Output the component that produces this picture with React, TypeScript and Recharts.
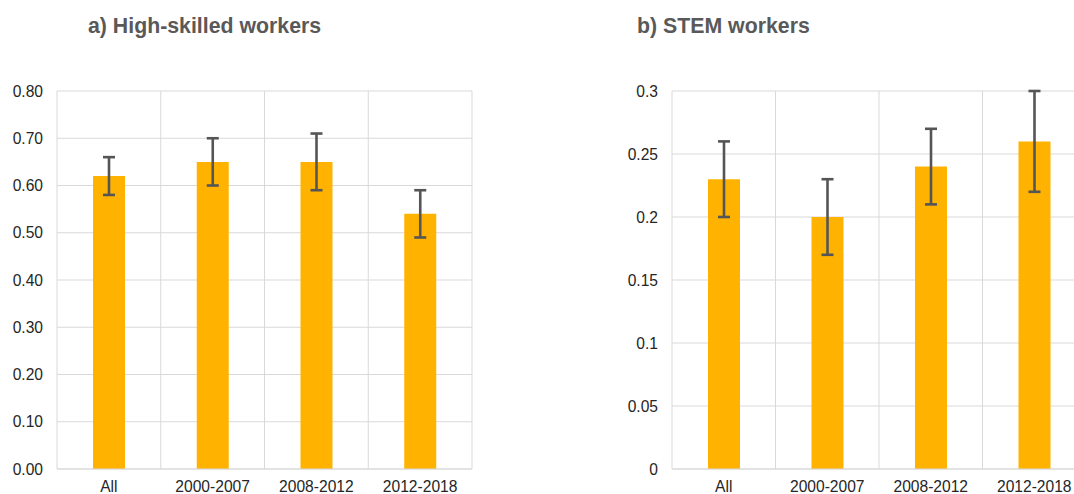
import React from 'react';
import { BarChart, Bar, XAxis, YAxis, CartesianGrid, ErrorBar } from 'recharts';

// periods shared by both panels
const periods = ['All', '2000-2007', '2008-2012', '2012-2018'];

// panel a) high-skilled workers
const skilledValues = [0.62, 0.65, 0.65, 0.54];
const skilledErrLow = [0.04, 0.05, 0.06, 0.05];
const skilledErrHigh = [0.04, 0.05, 0.06, 0.05];
const skilledTicks = [0, 0.1, 0.2, 0.3, 0.4, 0.5, 0.6, 0.7, 0.8];

// panel b) STEM workers
const stemValues = [0.23, 0.2, 0.24, 0.26];
const stemErrLow = [0.03, 0.03, 0.03, 0.04];
const stemErrHigh = [0.03, 0.03, 0.03, 0.04];
const stemTicks = [0, 0.05, 0.1, 0.15, 0.2, 0.25, 0.3];

const BAR_COLOR = '#FFB300';
const GRID_COLOR = '#d9d9d9';
const FONT = '"Liberation Sans", Arial, sans-serif';

function buildRows(values: number[], low: number[], high: number[]) {
  return periods.map((name, i) => ({
    name,
    value: values[i],
    err: [low[i], high[i]],
  }));
}

interface PanelProps {
  title: string;
  data: { name: string; value: number; err: number[] }[];
  ticks: number[];
  formatTick: (v: number) => string;
  left: number;
  width: number;
  yAxisWidth: number;
  rightMargin: number;
  titleLeft: number;
}

function Panel({ title, data, ticks, formatTick, left, width, yAxisWidth, rightMargin, titleLeft }: PanelProps) {
  const n = data.length;
  return (
    <div style={{ position: 'absolute', left, top: 0, width, height: 494 }}>
      <div
        style={{
          position: 'absolute',
          left: titleLeft,
          top: 13,
          fontFamily: FONT,
          fontWeight: 'bold',
          fontSize: 21.3,
          lineHeight: '26px',
          color: '#595959',
          whiteSpace: 'nowrap',
        }}
      >
        {title}
      </div>
      <BarChart
        width={width}
        height={494}
        data={data}
        margin={{ top: 91, right: rightMargin, left: 0, bottom: 0 }}
        barSize={32}
      >
        <CartesianGrid
          stroke={GRID_COLOR}
          verticalCoordinatesGenerator={({ offset }: any) =>
            Array.from({ length: n + 1 }, (_, i) => offset.left + (i * offset.width) / n)
          }
        />
        <XAxis
          dataKey="name"
          height={25}
          tickLine={false}
          tickSize={0}
          tickMargin={12}
          axisLine={{ stroke: GRID_COLOR }}
          tick={{ fill: '#262626', fontSize: 15.6, fontFamily: FONT }}
          interval={0}
        />
        <YAxis
          width={yAxisWidth}
          domain={[ticks[0], ticks[ticks.length - 1]]}
          ticks={ticks}
          tickFormatter={formatTick}
          axisLine={false}
          tickLine={false}
          tickSize={0}
          tickMargin={14}
          tick={{ fill: '#262626', fontSize: 15.6, fontFamily: FONT }}
          interval={0}
        />
        <Bar dataKey="value" fill={BAR_COLOR} isAnimationActive={false}>
          <ErrorBar dataKey="err" width={6} stroke="#555555" strokeWidth={2.6} isAnimationActive={false} />
        </Bar>
      </BarChart>
    </div>
  );
}

export default function App() {
  const skilledRows = buildRows(skilledValues, skilledErrLow, skilledErrHigh);
  const stemRows = buildRows(stemValues, stemErrLow, stemErrHigh);
  return (
    <div
      style={{
        position: 'absolute',
        left: 0,
        top: 0,
        width: 1074,
        height: 494,
        overflow: 'hidden',
        background: '#fff',
      }}
    >
      <Panel
        title="a) High-skilled workers"
        data={skilledRows}
        ticks={skilledTicks}
        formatTick={(v) => v.toFixed(2)}
        left={0}
        width={490}
        yAxisWidth={57}
        rightMargin={18}
        titleLeft={88}
      />
      <Panel
        title="b) STEM workers"
        data={stemRows}
        ticks={stemTicks}
        formatTick={(v) => String(v)}
        left={600}
        width={500}
        yAxisWidth={72}
        rightMargin={14}
        titleLeft={37}
      />
    </div>
  );
}
